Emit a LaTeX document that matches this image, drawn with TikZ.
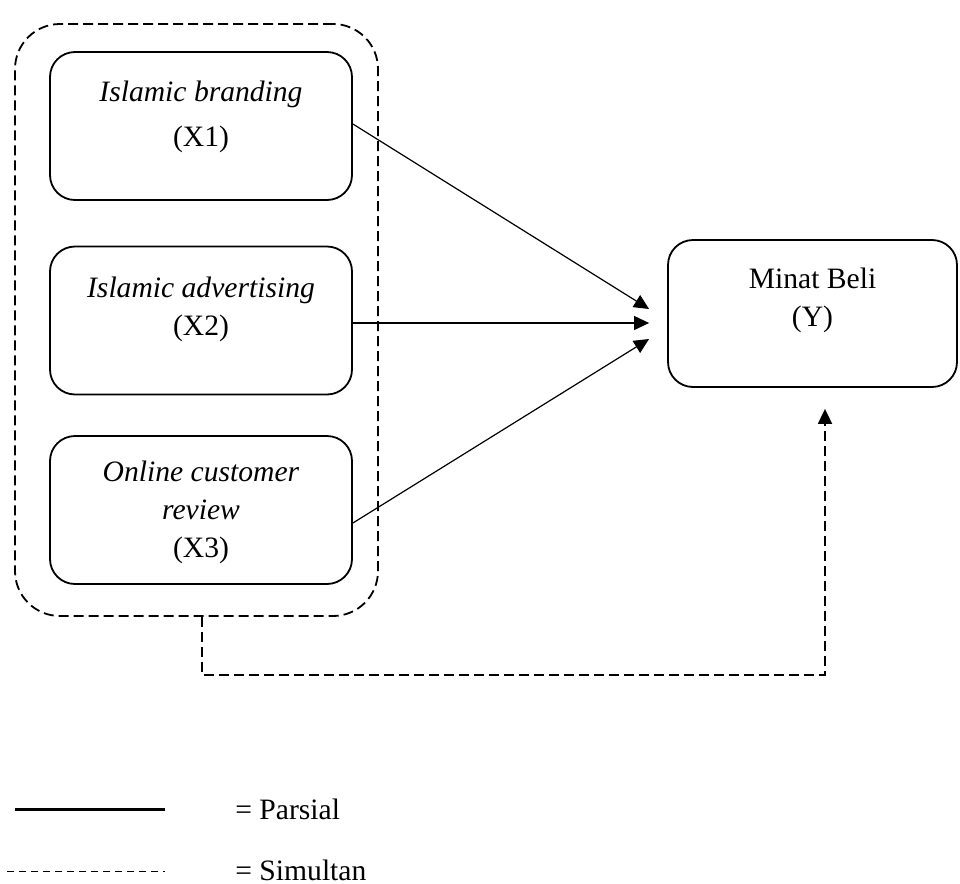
\documentclass[tikz,border=0pt]{standalone}
\usepackage{fontspec}
\setmainfont{Liberation Serif}
\usetikzlibrary{arrows.meta}

\begin{document}
\begin{tikzpicture}[x=0.5pt,y=-0.5pt,>={Triangle[length=7.5pt,width=7pt]},
  kotak/.style={draw,line width=0.9pt,rounded corners=12.5pt,minimum width=151pt,minimum height=74pt,inner sep=0pt},
  teks/.style={font=\fontsize{14.8}{19}\selectfont,align=center,inner sep=0pt},
  panah/.style={->,line width=0.6pt},
  putus/.style={line width=0.9pt,dash pattern=on 5pt off 2.5pt}]

  \useasboundingbox (0,0) rectangle (960,884);

  % ================= Kelompok variabel bebas (simultan) =================
  \node[putus,draw,rounded corners=22.5pt,minimum width=181.5pt,minimum height=296pt,inner sep=0pt] (grup) at (196.5,320) {};

  % ================= Variabel X =================
  \node[kotak] (x1) at (201,126) {};
  \node[teks] (x1t) at (201,116.5) {\textit{Islamic branding}\\[3.5pt](X1)};

  \node[kotak] (x2) at (201,320.5) {};
  \node[teks] (x2t) at (201,309) {\textit{Islamic advertising}\\(X2)};

  \node[kotak] (x3) at (201,510) {};
  \node[teks] (x3t) at (201,512.5) {\textit{Online customer}\\\textit{review}\\(X3)};

  % ================= Variabel Y =================
  \node[kotak,minimum width=144.5pt,minimum height=73.5pt] (y) at (812.5,313.5) {};
  \node[teks] (yt) at (812.5,300.5) {Minat Beli\\(Y)};

  % ================= Pengaruh parsial =================
  \coordinate (t1) at ([xshift=-9pt,yshift=2.25pt]y.west);
  \coordinate (t2) at ([xshift=-9pt,yshift=-4.75pt]y.west);
  \coordinate (t3) at ([xshift=-9pt,yshift=-12.75pt]y.west);
  \draw[panah] ([yshift=1pt]x1.east) -- (t1);
  \draw[panah] ([yshift=-1.25pt]x2.east) -- (t2);
  \draw[panah] ([yshift=-6.5pt]x3.east) -- (t3);

  % ================= Pengaruh simultan =================
  \coordinate (ujung) at ([xshift=6.25pt,yshift=-10.5pt]y.south);
  \draw[putus,->] ([xshift=2.75pt]grup.south) -- ++(0,58) -| (ujung);

  % ================= Keterangan =================
  \coordinate (p1) at (15,809);
  \coordinate (p2) at (165,809);
  \draw[line width=1.5pt] (p1) -- (p2);
  \node[teks,anchor=base west] (lp) at (235,819) {= Parsial};

  \coordinate (s1) at (7,871);
  \coordinate (s2) at (165,871);
  \draw[line width=0.5pt,dash pattern=on 3.5pt off 2.5pt] (s1) -- (s2);
  \node[teks,anchor=base west] (ls) at (235,880) {= Simultan};

\end{tikzpicture}
\end{document}
